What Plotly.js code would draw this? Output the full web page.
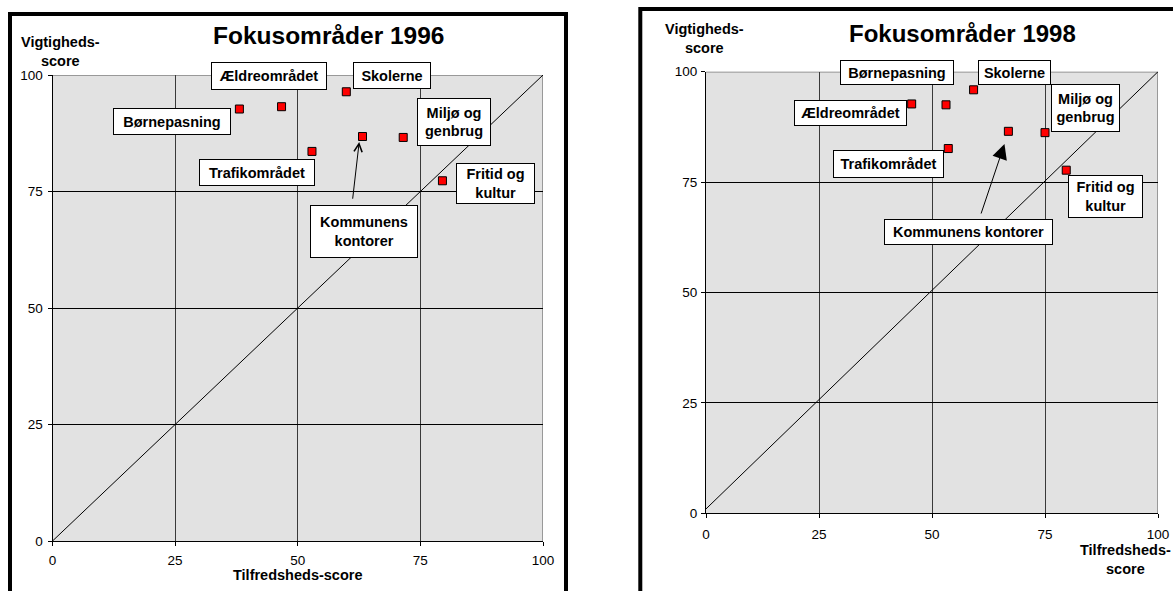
<!DOCTYPE html>
<html>
<head>
<meta charset="utf-8">
<script src="https://cdn.plot.ly/plotly-3.0.1.min.js"></script>
<style>
html,body{margin:0;padding:0;background:#ffffff;}
#chart{width:1173px;height:591px;}
</style>
</head>
<body>
<div id="chart"></div>
<script>
// ---------- data ----------
const categories = ['Børnepasning','Ældreområdet','Trafikområdet','Skolerne','Kommunens kontorer','Miljø og genbrug','Fritid og kultur'];
const labels96 = ['Børnepasning','Ældreområdet','Trafikområdet','Skolerne','Kommunens<br>kontorer','Miljø og<br>genbrug','Fritid og<br>kultur'];
const labels98 = ['Børnepasning','Ældreområdet','Trafikområdet','Skolerne','Kommunens kontorer','Miljø og<br>genbrug','Fritid og<br>kultur'];

// 1996: Tilfredsheds-score (x) and Vigtigheds-score (y)
const x96 = [38.1, 46.7, 52.9, 59.9, 63.2, 71.5, 79.5];
const y96 = [92.7, 93.2, 83.6, 96.4, 86.8, 86.6, 77.3];
// 1998
const x98 = [53.1, 45.5, 53.6, 59.2, 66.9, 75.0, 79.7];
const y98 = [92.5, 92.7, 82.6, 95.9, 86.5, 86.2, 77.7];

// reference diagonals
const diag96X = [0, 100];
const diag96Y = [0, 100];
const diag98X = [-1, 100];
const diag98Y = [0, 100];

const tickVals = [0, 25, 50, 75, 100];
const tickText = ['0', '25', '50', '75', '100'];

const title96 = 'Fokusområder 1996';
const title98 = 'Fokusområder 1998';
const yTitleText = 'Vigtigheds-<br>score';
const xTitle96 = 'Tilfredsheds-score';
const xTitle98 = 'Tilfredsheds-<br>score';

// ---------- layout helpers ----------
const W = 1173, H = 591;
const px = v => v / W;
const py = v => 1 - v / H;
const FONT = 'Arial, "Liberation Sans", Helvetica, sans-serif';

// label box placement (pixel offsets from point, box size)
const boxes96 = [
  {dx:-67.6, dy:-12.8, w:117, h:26},
  {dx:-12.3, dy: 30.5, w:115, h:27},
  {dx:-54.8, dy:-21.5, w:115, h:26},
  {dx: 45.4, dy: 16.5, w: 77, h:26},
  {dx:  1.3, dy:-94.5, w:107, h:52},
  {dx: 50.3, dy: 15.0, w: 73, h:47},
  {dx: 53.0, dy: -2.5, w: 78, h:40}
];
const boxes98 = [
  {dx:-49.4, dy: 32.5, w:113, h:24},
  {dx:-61.3, dy: -9.5, w:112, h:25},
  {dx:-60.0, dy:-15.6, w:110, h:27},
  {dx: 41.1, dy: 17.8, w: 72, h:24},
  {dx:-39.6, dy:-100.4, w:168, h:25},
  {dx: 40.2, dy: 25.0, w: 68, h:47},
  {dx: 39.2, dy:-26.5, w: 74, h:42}
];

function axisCommon(extra) {
  return Object.assign({
    range: [0, 100],
    tickmode: 'array',
    tickvals: tickVals,
    ticktext: tickText,
    ticks: 'outside',
    ticklen: 4,
    tickwidth: 1,
    tickcolor: '#000000',
    showline: true,
    linecolor: '#000000',
    linewidth: 1,
    showgrid: true,
    zeroline: false,
    tickfont: {family: FONT, size: 13.5, color: '#000000'},
    fixedrange: true
  }, extra);
}

const traces = [
  {x: diag96X, y: diag96Y, xaxis: 'x', yaxis: 'y', mode: 'lines', type: 'scatter',
   line: {color: '#000000', width: 1}, hoverinfo: 'skip', showlegend: false},
  {x: x96, y: y96, text: categories, xaxis: 'x', yaxis: 'y', mode: 'markers', type: 'scatter',
   marker: {symbol: 'square', size: 8, color: '#ff0000', line: {color: '#000000', width: 1}},
   showlegend: false, name: '1996'},
  {x: diag98X, y: diag98Y, xaxis: 'x2', yaxis: 'y2', mode: 'lines', type: 'scatter',
   line: {color: '#000000', width: 1}, hoverinfo: 'skip', showlegend: false},
  {x: x98, y: y98, text: categories, xaxis: 'x2', yaxis: 'y2', mode: 'markers', type: 'scatter',
   marker: {symbol: 'square', size: 8, color: '#ff0000', line: {color: '#000000', width: 1}},
   showlegend: false, name: '1998'}
];

const annotations = [];
function labelAnn(xs, ys, labels, boxes, xr, yr) {
  for (let i = 0; i < xs.length; i++) {
    const b = boxes[i];
    annotations.push({
      x: xs[i], y: ys[i], xref: xr, yref: yr,
      text: labels[i], showarrow: false,
      xanchor: 'center', yanchor: 'middle',
      xshift: b.dx, yshift: b.dy,
      width: b.w - 1, height: b.h - 1,
      bgcolor: '#ffffff', bordercolor: '#000000', borderwidth: 1, borderpad: 0,
      font: {family: FONT, size: 14.5, color: '#000000', weight: 700}
    });
  }
}
labelAnn(x96, y96, labels96, boxes96, 'x', 'y');
labelAnn(x98, y98, labels98, boxes98, 'x2', 'y2');

// arrows to "Kommunens kontorer"
annotations.push({
  x: x96[4], y: y96[4], xref: 'x', yref: 'y', text: '',
  showarrow: true, arrowhead: 5, arrowsize: 1.6, arrowwidth: 1, arrowcolor: '#000000',
  ax: -6.7, ay: 58.3, xshift: -3.3, yshift: -5.4, standoff: 0
});
annotations.push({
  x: x98[4], y: y98[4], xref: 'x2', yref: 'y2', text: '',
  showarrow: true, arrowhead: 2, arrowsize: 3, arrowwidth: 1, arrowcolor: '#000000',
  ax: -23.9, ay: 71, xshift: -3.9, yshift: -12.7, standoff: 0
});

function paperText(text, x, y, size) {
  annotations.push({
    xref: 'paper', yref: 'paper', x: px(x), y: py(y),
    xanchor: 'center', yanchor: 'middle', showarrow: false, text: text,
    font: {family: FONT, size: size, color: '#000000', weight: 700}
  });
}
paperText(title96, 329, 36, 24.5);
paperText(title98, 962.4, 33.3, 24);
paperText(yTitleText, 60.5, 51, 14.5);
paperText(yTitleText, 704.5, 38.5, 14.5);
paperText(xTitle96, 297.8, 575, 14.5);
paperText(xTitle98, 1125, 559, 14.5);

const shapes = [
  // outer chart frames
  {type: 'rect', xref: 'paper', yref: 'paper', x0: px(10), x1: px(566), y0: -0.1, y1: py(14),
   line: {color: '#000000', width: 4}, fillcolor: 'rgba(0,0,0,0)', layer: 'above'},
  {type: 'rect', xref: 'paper', yref: 'paper', x0: px(640.3), x1: 1.1, y0: -0.1, y1: py(9),
   line: {color: '#000000', width: 4}, fillcolor: 'rgba(0,0,0,0)', layer: 'above'},
  // grey top/right plot edges
  {type: 'line', xref: 'x', yref: 'y', x0: 0, x1: 100, y0: 100, y1: 100, line: {color: '#808080', width: 1.5}, layer: 'below'},
  {type: 'line', xref: 'x', yref: 'y', x0: 100, x1: 100, y0: 0, y1: 100, line: {color: '#808080', width: 1.5}, layer: 'below'},
  {type: 'line', xref: 'x2', yref: 'y2', x0: 0, x1: 100, y0: 100, y1: 100, line: {color: '#808080', width: 1.5}, layer: 'below'},
  {type: 'line', xref: 'x2', yref: 'y2', x0: 100, x1: 100, y0: 0, y1: 100, line: {color: '#808080', width: 1.5}, layer: 'below'}
];

const layout = {
  width: W, height: H,
  margin: {l: 0, r: 0, t: 0, b: 0, pad: 0},
  paper_bgcolor: '#ffffff',
  plot_bgcolor: '#e2e2e2',
  showlegend: false,
  xaxis: axisCommon({domain: [px(52.5), px(543)], anchor: 'y', gridcolor: '#3a3a3a', gridwidth: 1, ticklabelstandoff: 3}),
  yaxis: axisCommon({domain: [py(541), py(75)], anchor: 'x', gridcolor: '#000000', gridwidth: 1, ticklabelstandoff: 2}),
  xaxis2: axisCommon({domain: [px(706), px(1158)], anchor: 'y2', gridcolor: '#3a3a3a', gridwidth: 1, ticklabelstandoff: 4}),
  yaxis2: axisCommon({domain: [py(513.3), py(71.7)], anchor: 'x2', gridcolor: '#000000', gridwidth: 1, ticklabelstandoff: 1}),
  annotations: annotations,
  shapes: shapes
};

Plotly.newPlot('chart', traces, layout, {staticPlot: true, displayModeBar: false});
</script>
</body>
</html>
